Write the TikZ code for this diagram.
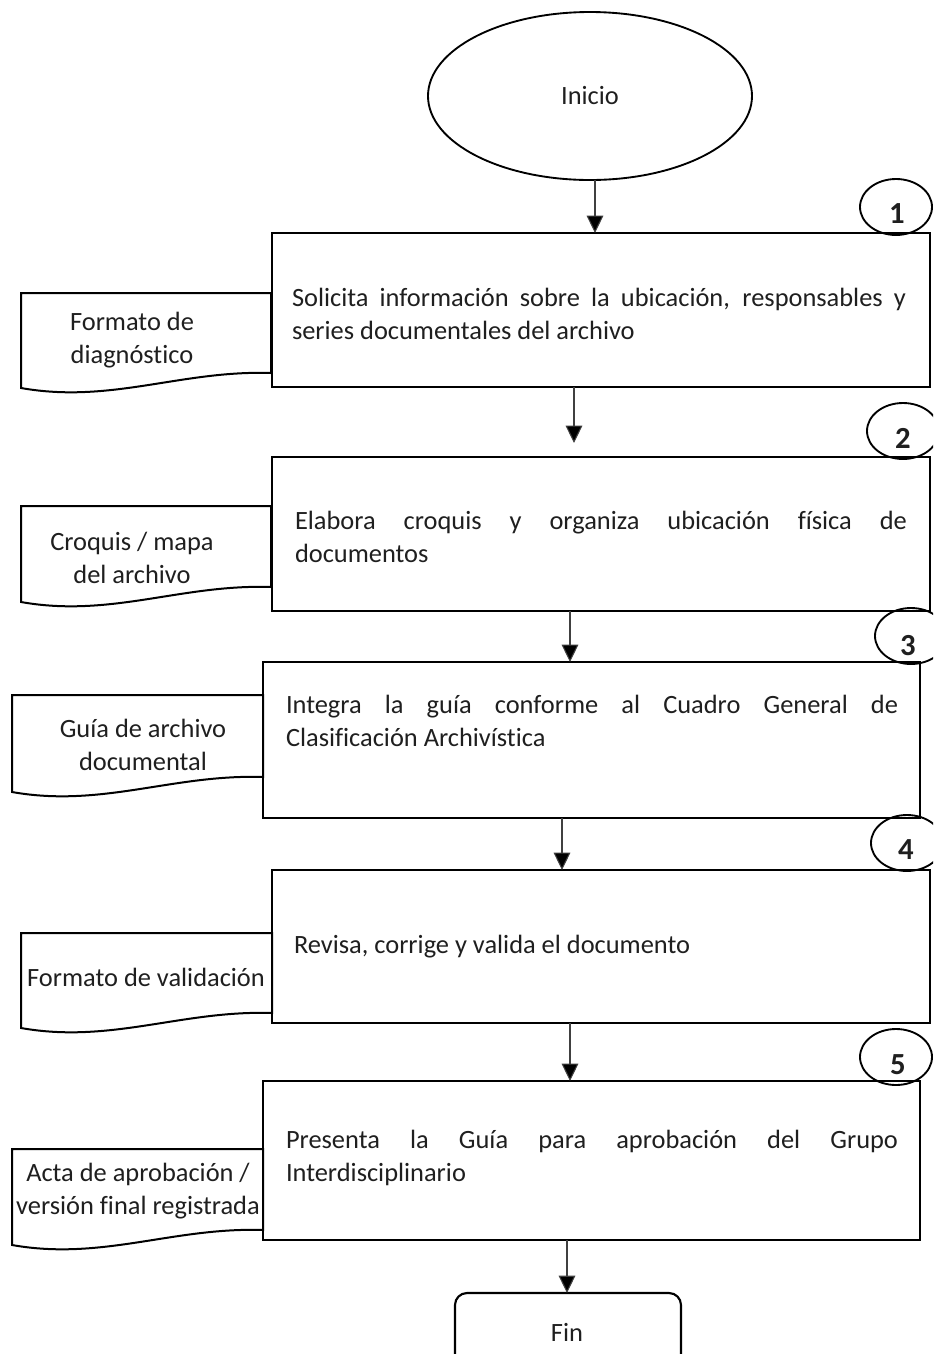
\documentclass[tikz,border=0pt]{standalone}
\usepackage{fontspec}
\setmainfont{Carlito}[Ligatures=NoCommon]
\usetikzlibrary{shapes.geometric,arrows.meta}
\tikzset{
  every node/.style={inner sep=0pt, outer sep=0pt, text=black!88},
  tf/.style={font=\fontsize{19.8}{24.75}\selectfont},
  box/.style={draw, line width=1.6pt, rectangle},
  numc/.style={draw, line width=1.4pt, ellipse, minimum width=54pt, minimum height=42pt},
  numt/.style={font=\fontsize{23}{26}\selectfont\bfseries},
  btxt/.style={tf, anchor=west, align=justify, text width=459pt},
  dtxt/.style={tf, align=center},
  docline/.style={line width=1.5pt},
  arr/.style={line width=0.8pt, draw=black!75, -{Triangle[length=13pt,width=12.5pt,fill=black]}},
}
\newcommand{\docshape}[4]{%
  \draw[docline] (#1,#2) -- (#3,#2) -- (#3,{#4-15}) .. controls ({#3-90},{#4-18}) and ({#1+90},{#4+16}) .. (#1,#4) -- cycle;}
\begin{document}
\begin{tikzpicture}[x=0.75pt,y=-0.75pt]
\useasboundingbox (0,0) rectangle (933,1354);
\clip (0,0) rectangle (933,1354);
\fill[white] (0,0) rectangle (933,1354);

% start
\node[draw, line width=1.4pt, ellipse, minimum width=243pt, minimum height=126pt, tf] (start) at (590,96) {Inicio};

% process boxes
\node[box, minimum width=493.5pt, minimum height=115.5pt] (b1) at (601,310) {};
\node[box, minimum width=493.5pt, minimum height=115.5pt] (b2) at (601,534) {};
\node[box, minimum width=492.75pt, minimum height=117pt] (b3) at (591.5,740) {};
\node[box, minimum width=493.5pt, minimum height=114.75pt] (b4) at (601,946.5) {};
\node[box, minimum width=492.75pt, minimum height=119.25pt] (b5) at (591.5,1160.5) {};
\node[box, rounded corners=9pt, minimum width=169.5pt, minimum height=60pt] (fin) at (568,1333) {};
\node[tf] (fint) at (567,1332) {Fin};

% box texts
\node[btxt, text width=460.5pt] (t1) at (292,314) {Solicita información sobre la ubicación, responsables y\linebreak series documentales del archivo};
\node[btxt] (t2) at (295,537) {Elabora croquis y organiza ubicación física de\linebreak documentos};
\node[btxt] (t3) at (286,720.5) {Integra la guía conforme al Cuadro General de\linebreak Clasificación Archivística};
\node[tf, anchor=west] (t4) at (294,947) {Revisa, corrige y valida el documento};
\node[btxt] (t5) at (286,1157.5) {Presenta la Guía para aprobación del Grupo\linebreak Interdisciplinario};

% number circles
\node[numc] (c1) at (896,207) {};
\node[numc] (c2) at (903,431) {};
\node[numc] (c3) at (911,636) {};
\node[numc] (c4) at (907,843) {};
\node[numc] (c5) at (896,1057) {};
\node[numt] (n1) at (897,214) {1};
\node[numt] (n2) at (903,438) {2};
\node[numt] (n3) at (908,646) {3};
\node[numt] (n4) at (906,850) {4};
\node[numt] (n5) at (898,1065) {5};

% document shapes
\docshape{21}{293}{271}{388}
\docshape{21}{506}{271}{602}
\docshape{12}{695}{263}{792}
\docshape{21}{933}{272}{1028}
\docshape{12}{1149}{263}{1245}
\node[dtxt] (d1) at (132,340) {Formato de\\diagnóstico};
\node[dtxt] (d2) at (132,558) {Croquis / mapa\\del archivo};
\node[dtxt] (d3) at (143,745) {Guía de archivo\\documental};
\node[dtxt] (d4) at (146,977) {Formato de validación};
\node[dtxt] (d5) at (138,1191) {Acta de aprobación /\\versión final registrada};

% connector x positions
\coordinate (x0) at (595,0);
\coordinate (x1) at (574,0);
\coordinate (x2) at (570,0);
\coordinate (x3) at (562,0);
\coordinate (x4) at (570,0);
\coordinate (x5) at (567,0);

\draw[arr] (start.south -| x0) -- (b1.north -| x0);
\draw[arr, shorten >=10.5pt] (b1.south -| x1) -- (b2.north -| x1);
\draw[arr] (b2.south -| x2) -- (b3.north -| x2);
\draw[arr] (b3.south -| x3) -- (b4.north -| x3);
\draw[arr] (b4.south -| x4) -- (b5.north -| x4);
\draw[arr] (b5.south -| x5) -- (fin.north -| x5);
\end{tikzpicture}
\end{document}
